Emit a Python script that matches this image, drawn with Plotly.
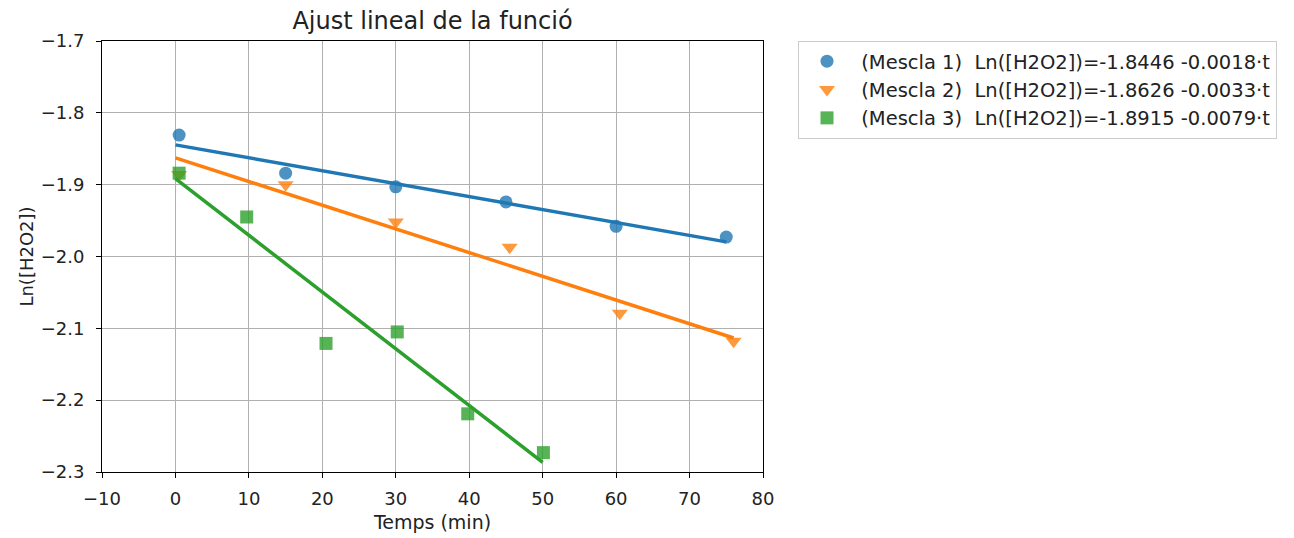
import plotly.graph_objects as go

# Data
t1 = [0.5, 15, 30, 45, 60, 75]
y1 = [-1.831, -1.884, -1.903, -1.924, -1.958, -1.973]
t2 = [0.5, 15, 30, 45.5, 60.5, 76]
y2 = [-1.886, -1.900, -1.952, -1.987, -2.079, -2.118]
t3 = [0.5, 9.7, 20.5, 30.2, 39.8, 50.1]
y3 = [-1.884, -1.945, -2.121, -2.105, -2.219, -2.273]

intercepts = [-1.8446, -1.8626, -1.8915]
slopes = [-0.0018, -0.0033, -0.0079]
fit_ranges = [[0, 75], [0, 76], [0, 50]]
names = ["Mescla 1", "Mescla 2", "Mescla 3"]
colors = ["#1f77b4", "#ff7f0e", "#2ca02c"]
symbols = ["circle", "triangle-down", "square"]
msizes = [13, 14, 13]

x_ticks = list(range(-10, 81, 10))
y_ticks = [-2.3, -2.2, -2.1, -2.0, -1.9, -1.8, -1.7]

fig = go.Figure()
series = [(t1, y1), (t2, y2), (t3, y3)]
for i, (tt, yy) in enumerate(series):
    label = f"\u00a0({names[i]})\u00a0\u00a0Ln([H2O2])={intercepts[i]:.4f} {slopes[i]:.4f}·t"
    fig.add_trace(go.Scatter(
        x=tt, y=yy, mode="markers", name=label,
        marker=dict(color=colors[i], symbol=symbols[i], size=msizes[i], opacity=0.8,
                    line=dict(width=0)),
    ))
    xs = fit_ranges[i]
    ys = [intercepts[i] + slopes[i] * x for x in xs]
    fig.add_trace(go.Scatter(
        x=xs, y=ys, mode="lines", showlegend=False,
        line=dict(color=colors[i], width=3.5),
    ))

axis_common = dict(
    showline=True, linecolor="black", linewidth=1, mirror=True,
    ticks="outside", ticklen=5, tickcolor="black",
    showgrid=True, gridcolor="#b0b0b0", gridwidth=1, zeroline=False,
    tickfont=dict(family="DejaVu Sans", size=18, color="#222"),
)

# page body has an 8px default margin; compensate so the plot area lands at
# x 102..763, y 41..472 in the window
L, T = 94, 33
fig.update_layout(
    width=1294, height=538,
    margin=dict(l=L, r=1294 - L - 661, t=T, b=538 - T - 431),
    paper_bgcolor="white", plot_bgcolor="white",
    font=dict(family="DejaVu Sans", color="#222"),
    title=dict(text="Ajust lineal de la funció", x=(L + L + 661) / 2 / 1294, xanchor="center",
               y=1 - 13 / 538, yanchor="middle", font=dict(size=24, color="#222")),
    xaxis=dict(range=[-10, 80], tickvals=x_ticks, ticklabelstandoff=5,
               title=dict(text="Temps (min)", font=dict(size=19), standoff=8), **axis_common),
    yaxis=dict(range=[-2.3, -1.7], tickvals=y_ticks, tickformat=".1f", ticklabelstandoff=8,
               title=dict(text="Ln([H2O2])", font=dict(size=18), standoff=2), **axis_common),
    legend=dict(x=(798 - 102) / 661, y=1.0, xanchor="left", yanchor="top",
                bordercolor="#cccccc", borderwidth=1, bgcolor="white",
                font=dict(size=19.5, color="#222"), tracegroupgap=0, itemwidth=46),
    showlegend=True,
)

fig.write_html("out.html")
